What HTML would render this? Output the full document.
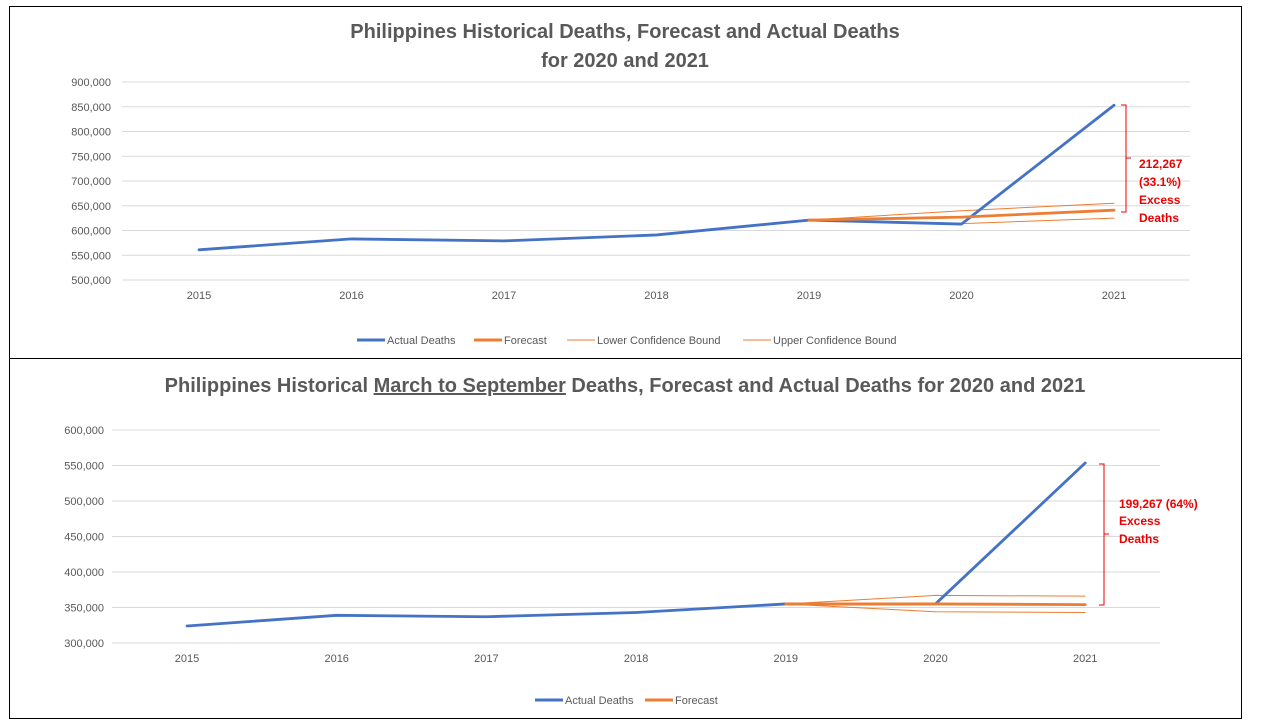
<!DOCTYPE html>
<html><head><meta charset="utf-8"><style>
body{margin:0;background:#fff;font-family:"Liberation Sans",sans-serif}
svg text{font-family:"Liberation Sans",sans-serif}
</style></head><body>
<svg id="s" width="1280" height="720" xmlns="http://www.w3.org/2000/svg">
<rect x="9.5" y="6.5" width="1232" height="712" fill="#fff" stroke="#000" stroke-width="1"/>
<line x1="9" y1="358.5" x2="1241" y2="358.5" stroke="#000"/>
<text x="625" y="38" text-anchor="middle" font-size="20" font-weight="bold" fill="#595959">Philippines Historical Deaths, Forecast and Actual Deaths</text>
<text x="625" y="67" text-anchor="middle" font-size="20" font-weight="bold" fill="#595959">for 2020 and 2021</text>
<text x="625" y="392" text-anchor="middle" font-size="20" font-weight="bold" fill="#595959">Philippines Historical <tspan text-decoration="underline">March to September</tspan> Deaths, Forecast and Actual Deaths for 2020 and 2021</text>
<g id="top"></g>
<g id="bot"></g>
<g>
<path d="M1121 105 h5 v107 h-5 M1126 158 h5" fill="none" stroke="#e00" stroke-width="1"/>
<text font-size="12" font-weight="bold" fill="#e00"><tspan x="1139" y="168">212,267</tspan><tspan x="1139" y="186">(33.1%)</tspan><tspan x="1139" y="204">Excess</tspan><tspan x="1139" y="222">Deaths</tspan></text>
</g>
<g>
<path d="M1099 464 h5 v141 h-5 M1104 534 h5" fill="none" stroke="#e00" stroke-width="1"/>
<text font-size="12" font-weight="bold" fill="#e00"><tspan x="1119" y="508">199,267  (64%)</tspan><tspan x="1119" y="525">Excess</tspan><tspan x="1119" y="543">Deaths</tspan></text>
</g>
</svg>
<script>
const years=["2015","2016","2017","2018","2019","2020","2021"];
const topActual=[561000,583000,579000,591000,621000,613000,853000];
const topForecast=[null,null,null,null,621000,627000,641000];
const topLower=[null,null,null,null,621000,614000,625000];
const topUpper=[null,null,null,null,621000,640000,655000];
const topTicks=[500000,550000,600000,650000,700000,750000,800000,850000,900000];
const botActual=[324000,339000,337000,343000,355000,355000,553500];
const botForecast=[null,null,null,null,355000,355000,354000];
const botLower=[null,null,null,null,355000,344000,343000];
const botUpper=[null,null,null,null,355000,367000,366000];
const botTicks=[300000,350000,400000,450000,500000,550000,600000];
const NS="http://www.w3.org/2000/svg";
function mk(g,t,a){const e=document.createElementNS(NS,t);for(const k in a)e.setAttribute(k,a[k]);g.appendChild(e);return e;}
function draw(g,cfg){
  const {x0,x1,y0,y1,vmin,vmax,ticks,series,ly,legend,xl,yl,first,step}=cfg;
  const sy=v=>y1-(v-vmin)/(vmax-vmin)*(y1-y0);
  const sx=i=>first+i*step;
  ticks.forEach(t=>{
    const l=mk(g,'line',{x1:x0,x2:x1,y1:sy(t),y2:sy(t),stroke:'#d9d9d9'});
    
    
    const tx=mk(g,'text',{x:yl,y:sy(t)+4,'text-anchor':'end','font-size':11,fill:'#595959'});
    tx.textContent=t.toLocaleString('en-US');
    
    
  });
  years.forEach((y,i)=>{
    const tx=mk(g,'text',{x:sx(i),y:xl,'text-anchor':'middle','font-size':11,fill:'#595959'});
    tx.textContent=y;
    
    
  });
  series.forEach(s=>{
    const pts=s.d.map((v,i)=>v==null?null:sx(i)+','+sy(v)).filter(p=>p);
    const p=mk(g,'polyline',{points:pts.join(' '),fill:'none',stroke:s.c,'stroke-width':s.w,'stroke-linejoin':'round','stroke-linecap':'round'});
    
    
  });
  legend.forEach(l=>{
    const ln=mk(g,'line',{x1:l.x,x2:l.x+28,y1:ly,y2:ly,stroke:l.c,'stroke-width':l.w});
    
    
    const tx=mk(g,'text',{x:l.x+30,y:ly+4,'font-size':11,fill:'#595959'});
    tx.textContent=l.t;
    
    
  });
}
draw(document.getElementById('top'),{x0:122,x1:1190,y0:82,y1:280,vmin:500000,vmax:900000,ticks:topTicks,first:199,step:152.5,xl:299,yl:111,ly:340,
 series:[{d:topLower,c:'#ed7d31',w:1,n:'lower-bound-line'},{d:topUpper,c:'#ed7d31',w:1,n:'upper-bound-line'},{d:topActual,c:'#4472c4',w:2.8,n:'actual-deaths-line'},{d:topForecast,c:'#ed7d31',w:2.8,n:'forecast-line'}],
 legend:[{x:357,t:'Actual Deaths',c:'#4472c4',w:3},{x:474,t:'Forecast',c:'#ed7d31',w:3},{x:567,t:'Lower Confidence Bound',c:'#ed7d31',w:1},{x:743,t:'Upper Confidence Bound',c:'#ed7d31',w:1}]});
draw(document.getElementById('bot'),{x0:112,x1:1160,y0:430,y1:643,vmin:300000,vmax:600000,ticks:botTicks,first:187,step:149.7,xl:662,yl:104,ly:700,
 series:[{d:botLower,c:'#ed7d31',w:1,n:'lower-bound-line'},{d:botUpper,c:'#ed7d31',w:1,n:'upper-bound-line'},{d:botActual,c:'#4472c4',w:2.8,n:'actual-deaths-line'},{d:botForecast,c:'#ed7d31',w:2.8,n:'forecast-line'}],
 legend:[{x:535,t:'Actual Deaths',c:'#4472c4',w:3},{x:645,t:'Forecast',c:'#ed7d31',w:3}]});
</script>
</body></html>
